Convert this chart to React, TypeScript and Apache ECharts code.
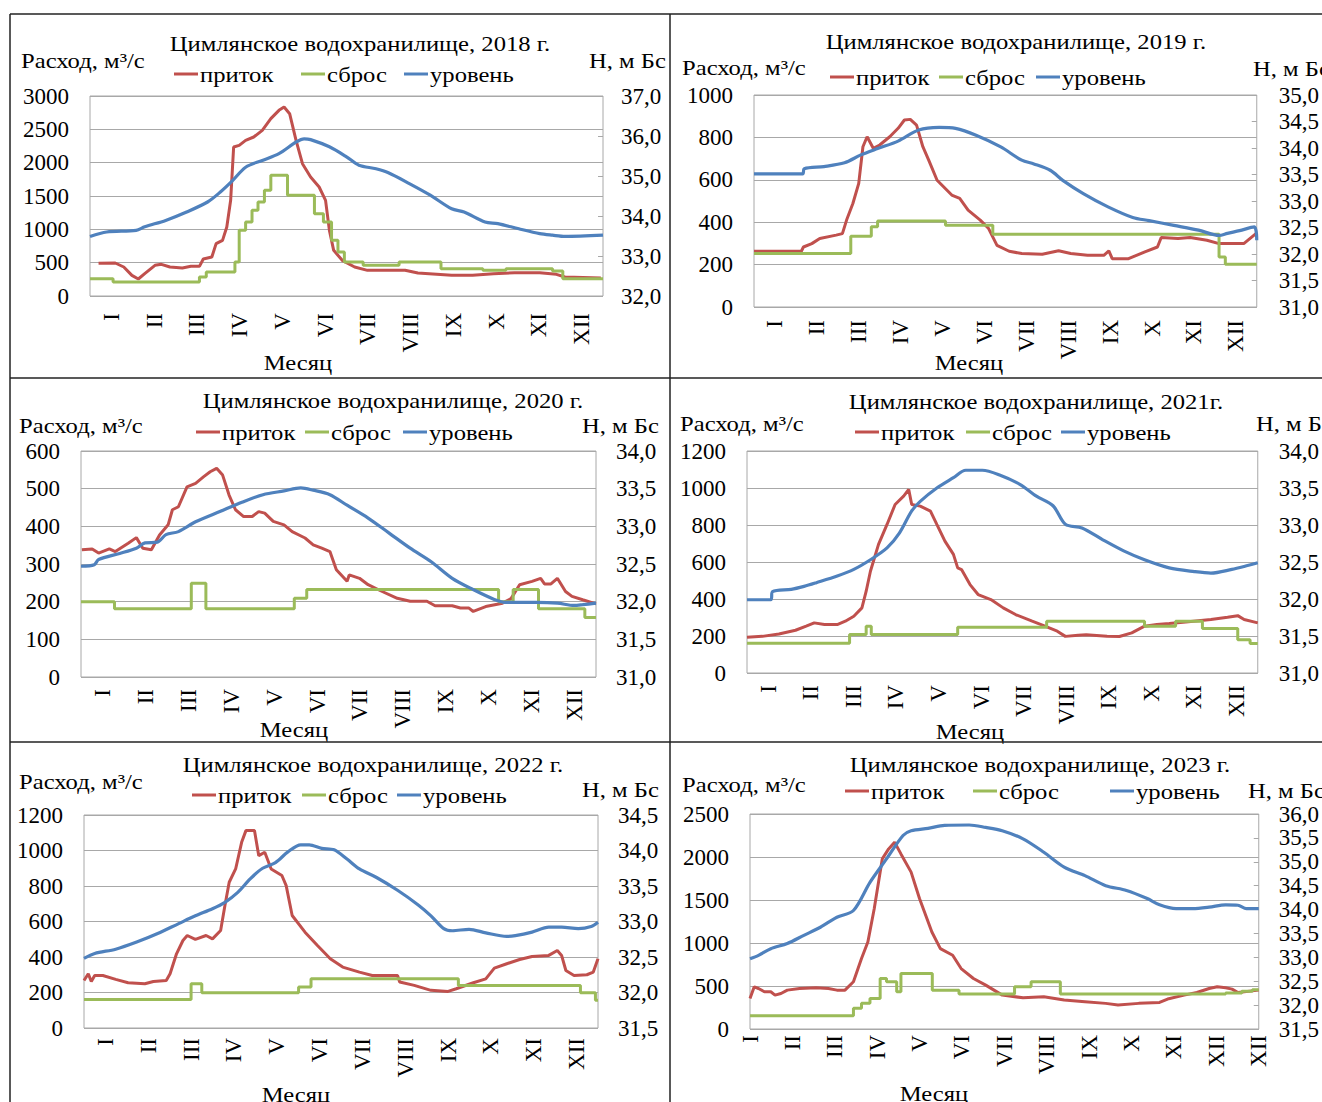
import React, { useEffect, useRef } from "react";
import * as echarts from "echarts";

type Pt = [number, number];

const MONTHS = ["I", "II", "III", "IV", "V", "VI", "VII", "VIII", "IX", "X", "XI", "XII"];
const MONTHS_2023 = ["I", "II", "III", "IV", "V", "VI", "VII", "VIII", "IX", "X", "XI", "XII", "XII"];
const LEGEND_NAMES = ["приток", "сброс", "уровень"];

// ---------- 2018 ----------
const pritok2018: Pt[] = [[0.2,490],[0.59,495],[0.79,435],[0.98,310],[1.13,255],[1.28,335],[1.52,460],[1.67,475],[1.87,435],[2.16,420],[2.36,445],[2.56,445],[2.65,555],[2.85,585],[2.95,785],[3.1,835],[3.2,1035],[3.29,1435],[3.36,2235],[3.49,2260],[3.64,2335],[3.83,2385],[4.03,2485],[4.23,2660],[4.42,2785],[4.54,2835],[4.67,2735],[4.82,2335],[4.97,1985],[5.16,1785],[5.36,1635],[5.51,1435],[5.6,985],[5.7,685],[5.9,535],[6.19,435],[6.49,385],[6.98,385],[7.37,385],[7.67,345],[8.46,310],[8.95,310],[9.44,335],[9.93,350],[10.52,350],[10.91,325],[11.11,285],[11.95,270]];
const sbros2018: Pt[] = [[0,260],[0.54,210],[2.56,285],[2.72,360],[3.39,510],[3.49,985],[3.64,1110],[3.79,1285],[3.93,1410],[4.08,1585],[4.23,1810],[4.62,1510],[5.25,1235],[5.46,1110],[5.65,835],[5.8,660],[5.95,510],[6.39,460],[7.23,510],[8.21,410],[9.19,385],[9.73,410],[10.82,375],[11.06,260],[12,260]];
const uroven2018: Pt[] = [[0,33.49],[0.39,33.6],[1.08,33.64],[1.28,33.73],[1.77,33.89],[2.26,34.1],[2.75,34.35],[3.05,34.6],[3.34,34.89],[3.64,35.22],[4.03,35.39],[4.42,35.56],[4.82,35.85],[5.01,35.93],[5.16,35.91],[5.6,35.73],[6.0,35.48],[6.29,35.27],[6.69,35.18],[6.98,35.08],[7.47,34.81],[7.96,34.52],[8.46,34.18],[8.75,34.1],[9.24,33.85],[9.54,33.81],[10.03,33.68],[10.52,33.56],[10.82,33.52],[11.11,33.49],[12,33.52]];

// ---------- 2019 ----------
const pritok2019: Pt[] = [[0,263],[1.13,263],[1.18,283],[1.38,299],[1.57,323],[1.96,339],[2.11,346],[2.21,410],[2.36,488],[2.5,583],[2.6,756],[2.7,803],[2.85,748],[3.0,764],[3.24,803],[3.44,843],[3.59,882],[3.73,885],[3.88,858],[4.03,756],[4.17,693],[4.37,598],[4.72,528],[4.91,512],[5.11,457],[5.4,410],[5.6,370],[5.8,291],[6.09,263],[6.39,252],[6.88,249],[7.27,265],[7.56,252],[7.96,244],[8.35,244],[8.47,265],[8.55,228],[8.94,228],[9.33,260],[9.63,283],[9.72,328],[10.12,323],[10.41,328],[10.81,315],[11.1,299],[11.69,299],[11.98,346]];
const sbros2019: Pt[] = [[0,252],[2.31,334],[2.8,378],[2.95,406],[4.57,386],[5.7,343],[11.1,236],[11.25,202],[12,202]];
const uroven2019: Pt[] = [[0,33.51],[1.16,33.51],[1.2,33.61],[1.67,33.65],[2.16,33.72],[2.55,33.87],[2.95,33.99],[3.44,34.13],[3.93,34.34],[4.42,34.39],[4.81,34.37],[5.3,34.24],[5.89,34.02],[6.39,33.77],[6.68,33.7],[7.07,33.58],[7.37,33.39],[7.86,33.14],[8.45,32.89],[9.04,32.69],[9.43,32.63],[10.02,32.54],[10.61,32.45],[11.1,32.35],[11.3,32.39],[11.59,32.44],[11.94,32.51],[12,32.26]];

// ---------- 2020 ----------
const pritok2020: Pt[] = [[0.02,338],[0.26,340],[0.41,329],[0.66,340],[0.8,333],[1.1,355],[1.29,370],[1.44,342],[1.64,338],[1.83,377],[2.03,404],[2.13,444],[2.27,452],[2.47,505],[2.67,514],[2.86,532],[3.01,545],[3.16,554],[3.3,536],[3.45,483],[3.6,444],[3.79,426],[3.99,426],[4.14,439],[4.28,435],[4.48,413],[4.73,404],[4.92,386],[5.22,369],[5.41,351],[5.61,342],[5.8,333],[5.95,285],[6.2,254],[6.25,271],[6.49,262],[6.69,245],[6.98,229],[7.37,209],[7.67,201],[8.06,201],[8.25,189],[8.65,189],[8.84,183],[9.04,183],[9.14,174],[9.43,187],[9.82,196],[10.02,208],[10.22,245],[10.51,254],[10.71,262],[10.8,247],[10.95,247],[11.1,262],[11.29,227],[11.44,214],[11.69,205],[12,194]];
const sbros2020: Pt[] = [[0,200],[0.78,181],[2.57,249],[2.91,181],[4.97,209],[5.26,232],[9.73,200],[10.07,232],[10.66,181],[11.74,158],[12,158]];
const uroven2020: Pt[] = [[0,32.47],[0.31,32.49],[0.41,32.56],[0.9,32.64],[1.29,32.71],[1.49,32.78],[1.78,32.79],[1.98,32.89],[2.27,32.93],[2.67,33.06],[3.25,33.2],[3.75,33.32],[4.24,33.42],[4.73,33.47],[5.12,33.51],[5.41,33.48],[5.8,33.42],[6.2,33.28],[6.69,33.11],[7.18,32.91],[7.67,32.71],[8.16,32.53],[8.65,32.31],[9.14,32.16],[9.63,32.03],[9.92,31.99],[10.61,31.99],[11.1,31.98],[11.49,31.95],[11.69,31.96],[12,31.98]];

// ---------- 2021 ----------
const pritok2021: Pt[] = [[0,193],[0.36,198],[0.75,211],[1.14,231],[1.39,253],[1.58,271],[1.82,262],[2.12,262],[2.31,280],[2.51,307],[2.7,352],[2.8,442],[2.9,550],[3.09,695],[3.29,803],[3.48,911],[3.68,956],[3.8,992],[3.87,911],[4.07,902],[4.31,875],[4.46,803],[4.65,713],[4.85,641],[4.95,568],[5.04,559],[5.24,478],[5.43,424],[5.73,397],[6.02,352],[6.31,316],[6.7,280],[7.0,253],[7.29,226],[7.48,198],[7.78,204],[7.97,207],[8.46,198],[8.75,197],[9.04,217],[9.34,253],[9.63,262],[9.92,267],[10.31,276],[10.9,289],[11.29,301],[11.53,310],[11.68,289],[12,271]];
const sbros2021: Pt[] = [[0,161],[2.41,208],[2.8,253],[2.92,208],[4.95,247],[7.04,280],[9.34,253],[10.07,280],[10.7,240],[11.53,180],[11.82,159],[12,159]];
const uroven2021: Pt[] = [[0,31.99],[0.56,31.99],[0.6,32.1],[1.04,32.13],[1.34,32.17],[1.63,32.22],[2.12,32.31],[2.51,32.4],[2.9,32.53],[3.29,32.69],[3.58,32.89],[3.87,33.19],[4.07,33.32],[4.46,33.5],[4.85,33.64],[5.14,33.74],[5.53,33.74],[5.92,33.68],[6.41,33.55],[6.8,33.39],[7.19,33.26],[7.48,33.01],[7.87,32.96],[8.36,32.8],[8.85,32.65],[9.34,32.53],[9.92,32.42],[10.51,32.37],[10.9,32.35],[11.39,32.4],[11.68,32.44],[12,32.49]];

// ---------- 2022 ----------
const pritok2022: Pt[] = [[0,268],[0.1,306],[0.17,262],[0.25,296],[0.44,296],[0.74,274],[1.03,255],[1.42,249],[1.62,262],[1.92,268],[2.01,306],[2.16,418],[2.31,493],[2.41,521],[2.6,499],[2.85,521],[3.0,502],[3.19,549],[3.29,690],[3.39,821],[3.54,896],[3.68,1046],[3.78,1112],[3.98,1112],[4.08,971],[4.22,990],[4.37,896],[4.62,859],[4.72,802],[4.86,634],[5.16,540],[5.45,465],[5.75,390],[6.04,343],[6.43,315],[6.73,296],[7.32,296],[7.37,259],[7.71,240],[8.1,212],[8.5,206],[8.69,221],[9.09,255],[9.38,277],[9.58,337],[9.87,362],[10.17,386],[10.46,403],[10.85,409],[11.05,437],[11.15,409],[11.25,324],[11.44,296],[11.74,300],[11.89,315],[12,390]];
const sbros2022: Pt[] = [[0,161],[2.5,249],[2.75,199],[5.01,231],[5.3,278],[8.74,240],[11.59,199],[11.94,156],[12,156]];
const uroven2022: Pt[] = [[0,32.48],[0.25,32.55],[0.74,32.61],[1.23,32.71],[1.72,32.83],[2.21,32.97],[2.6,33.08],[3.0,33.18],[3.29,33.27],[3.59,33.41],[3.88,33.6],[4.17,33.75],[4.47,33.83],[4.76,33.98],[5.06,34.08],[5.26,34.08],[5.55,34.03],[5.84,34.01],[6.14,33.88],[6.43,33.74],[6.83,33.62],[7.32,33.44],[7.81,33.23],[8.1,33.08],[8.4,32.9],[8.6,32.87],[8.99,32.89],[9.38,32.84],[9.87,32.79],[10.07,32.8],[10.46,32.85],[10.85,32.92],[11.15,32.92],[11.54,32.9],[11.84,32.93],[12,32.99]];

// ---------- 2023 ----------
const pritok2023: Pt[] = [[0,355],[0.1,491],[0.2,471],[0.34,433],[0.49,433],[0.59,394],[0.73,413],[0.88,452],[1.17,471],[1.56,479],[1.85,471],[2.05,452],[2.24,452],[2.44,549],[2.63,819],[2.78,1012],[2.93,1399],[3.12,1978],[3.27,2094],[3.41,2172],[3.56,2036],[3.8,1824],[4.0,1515],[4.29,1128],[4.49,935],[4.78,858],[4.98,703],[5.27,587],[5.56,510],[5.95,394],[6.44,363],[6.93,375],[7.41,336],[7.9,317],[8.39,298],[8.68,278],[9.17,298],[9.66,309],[9.85,348],[10.24,394],[10.54,425],[10.83,471],[11.02,491],[11.22,479],[11.37,464],[11.51,425],[12,452]];
const sbros2023: Pt[] = [[0,155],[2.44,240],[2.63,298],[2.83,355],[3.07,587],[3.22,549],[3.46,433],[3.56,645],[4.3,452],[4.93,406],[6.24,491],[6.63,549],[7.32,406],[11.22,420],[11.6,440],[11.85,455],[12,455]];
const uroven2023: Pt[] = [[0,32.97],[0.2,33.04],[0.49,33.18],[0.88,33.29],[1.27,33.46],[1.66,33.63],[2.05,33.84],[2.44,33.98],[2.83,34.57],[3.22,35.06],[3.61,35.55],[3.8,35.65],[4.2,35.7],[4.59,35.76],[5.17,35.77],[5.56,35.72],[5.95,35.65],[6.44,35.48],[6.93,35.2],[7.41,34.89],[7.9,34.71],[8.39,34.5],[8.88,34.4],[9.37,34.23],[9.66,34.1],[10.05,34.02],[10.44,34.02],[10.83,34.05],[11.22,34.1],[11.51,34.09],[11.71,34.02],[12,34.02]];

const FONT = "'Liberation Serif', 'Times New Roman', serif";
const RED = "#C0504D";
const GREEN = "#9BBB59";
const BLUE = "#4F81BD";
const GRID_GRAY = "#a8a8a8";
const TXT_SCALE = 1.12;

interface Panel {
  title: string;
  pritok: Pt[];
  sbros: Pt[];
  uroven: Pt[];
  qMax: number;
  qStep: number;
  hMin: number;
  hMax: number;
  hStep: number;
  months: string[];
  boundaryGap: boolean;
  grid: { left: number; top: number; right: number; bottom: number };
  titlePos: [number, number];
  rashodPos: [number, number];
  hPos: [number, number];
  legendX: [number, number, number];
  legendY: number;
  monthPos: [number, number];
  xMargin: number;
  hMargin: number;
}

const panels: Panel[] = [
  {
    title: "Цимлянское водохранилище, 2018 г.",
    pritok: pritok2018, sbros: sbros2018, uroven: uroven2018,
    qMax: 3000, qStep: 500, hMin: 32, hMax: 37, hStep: 1,
    months: MONTHS, boundaryGap: true,
    grid: { left: 90, top: 96, right: 603, bottom: 296 },
    titlePos: [360, 43], rashodPos: [21, 60], hPos: [589, 60],
    legendX: [174, 301, 404], legendY: 74, monthPos: [298, 362],
    xMargin: 17, hMargin: 18,
  },
  {
    title: "Цимлянское водохранилище, 2019 г.",
    pritok: pritok2019, sbros: sbros2019, uroven: uroven2019,
    qMax: 1000, qStep: 200, hMin: 31, hMax: 35, hStep: 0.5,
    months: MONTHS, boundaryGap: true,
    grid: { left: 754, top: 95, right: 1268, bottom: 307 },
    titlePos: [1016, 41], rashodPos: [682, 67], hPos: [1253, 68],
    legendX: [830, 939, 1036], legendY: 77, monthPos: [969, 362],
    xMargin: 13, hMargin: 22,
  },
  {
    title: "Цимлянское водохранилище, 2020 г.",
    pritok: pritok2020, sbros: sbros2020, uroven: uroven2020,
    qMax: 600, qStep: 100, hMin: 31, hMax: 34, hStep: 0.5,
    months: MONTHS, boundaryGap: true,
    grid: { left: 81, top: 451, right: 596, bottom: 677 },
    titlePos: [393, 400], rashodPos: [19, 425], hPos: [582, 425],
    legendX: [196, 305, 403], legendY: 432, monthPos: [294, 729],
    xMargin: 12, hMargin: 20,
  },
  {
    title: "Цимлянское водохранилище, 2021г.",
    pritok: pritok2021, sbros: sbros2021, uroven: uroven2021,
    qMax: 1200, qStep: 200, hMin: 31, hMax: 34, hStep: 0.5,
    months: MONTHS, boundaryGap: true,
    grid: { left: 747, top: 451, right: 1265, bottom: 673 },
    titlePos: [1036, 401], rashodPos: [680, 423], hPos: [1256, 423],
    legendX: [855, 966, 1061], legendY: 432, monthPos: [970, 731],
    xMargin: 12, hMargin: 21,
  },
  {
    title: "Цимлянское водохранилище, 2022 г.",
    pritok: pritok2022, sbros: sbros2022, uroven: uroven2022,
    qMax: 1200, qStep: 200, hMin: 31.5, hMax: 34.5, hStep: 0.5,
    months: MONTHS, boundaryGap: true,
    grid: { left: 84, top: 815, right: 598, bottom: 1028 },
    titlePos: [373, 764], rashodPos: [19, 781], hPos: [582, 789],
    legendX: [192, 302, 397], legendY: 795, monthPos: [296, 1094],
    xMargin: 10, hMargin: 20,
  },
  {
    title: "Цимлянское водохранилище, 2023 г.",
    pritok: pritok2023, sbros: sbros2023, uroven: uroven2023,
    qMax: 2500, qStep: 500, hMin: 31.5, hMax: 36, hStep: 0.5,
    months: MONTHS_2023, boundaryGap: false,
    grid: { left: 750, top: 814, right: 1268, bottom: 1029 },
    titlePos: [1040, 764], rashodPos: [682, 784], hPos: [1248, 790],
    legendX: [845, 973, 1110], legendY: 791, monthPos: [934, 1093],
    xMargin: 6, hMargin: 20,
  },
];

const COLORS = [RED, GREEN, BLUE];

function textEl(text: string, x: number, y: number, align: string, size = 22) {
  return {
    type: "text",
    x,
    y,
    scaleX: TXT_SCALE,
    silent: true,
    style: {
      text,
      x: 0,
      y: 0,
      fill: "#000",
      font: `${size}px ${FONT}`,
      textAlign: align,
      textVerticalAlign: "middle",
    },
  };
}

function buildOption(): any {
  const grid: any[] = [];
  const xAxis: any[] = [];
  const yAxis: any[] = [];
  const series: any[] = [];
  const graphic: any[] = [];
  const labelStyle = { fontSize: 23, fontFamily: FONT, color: "#000" };

  panels.forEach((p, i) => {
    grid.push({
      left: p.grid.left,
      top: p.grid.top,
      width: p.grid.right - p.grid.left,
      height: p.grid.bottom - p.grid.top,
      show: true,
      borderColor: GRID_GRAY,
      borderWidth: 1,
      backgroundColor: "transparent",
    });
    xAxis.push({ type: "value", gridIndex: i, min: 0, max: 12, show: false });
    xAxis.push({
      type: "category",
      gridIndex: i,
      position: "bottom",
      data: p.months,
      boundaryGap: p.boundaryGap,
      axisLine: { show: false },
      axisTick: { show: false },
      splitLine: { show: false },
      axisLabel: { ...labelStyle, rotate: 90, margin: p.xMargin, interval: 0 },
    });
    yAxis.push({
      type: "value",
      gridIndex: i,
      position: "left",
      min: 0,
      max: p.qMax,
      interval: p.qStep,
      axisLine: { show: false },
      axisTick: { show: false },
      splitLine: { show: true, lineStyle: { color: GRID_GRAY, width: 1 } },
      axisLabel: { ...labelStyle, margin: 21, formatter: (v: number) => String(v) },
    });
    yAxis.push({
      type: "value",
      gridIndex: i,
      position: "right",
      min: p.hMin,
      max: p.hMax,
      interval: p.hStep,
      axisLine: { show: false },
      axisTick: { show: true, inside: true, length: 5, lineStyle: { color: GRID_GRAY } },
      splitLine: { show: false },
      axisLabel: {
        ...labelStyle,
        margin: p.hMargin,
        formatter: (v: number) => v.toFixed(1).replace(".", ","),
      },
    });

    const common = {
      type: "line",
      xAxisIndex: 2 * i,
      showSymbol: false,
      symbol: "none",
      silent: true,
    };
    series.push({
      ...common,
      name: "приток",
      yAxisIndex: 2 * i,
      data: p.pritok,
      lineStyle: { color: RED, width: 3 },
      itemStyle: { color: RED },
    });
    series.push({
      ...common,
      name: "сброс",
      yAxisIndex: 2 * i,
      step: "end",
      data: p.sbros,
      lineStyle: { color: GREEN, width: 3 },
      itemStyle: { color: GREEN },
    });
    series.push({
      ...common,
      name: "уровень",
      yAxisIndex: 2 * i + 1,
      smooth: 0.3,
      data: p.uroven,
      lineStyle: { color: BLUE, width: 3.2 },
      itemStyle: { color: BLUE },
    });

    graphic.push(textEl(p.title, p.titlePos[0], p.titlePos[1], "center"));
    graphic.push(textEl("Расход, м³/с", p.rashodPos[0], p.rashodPos[1], "left"));
    graphic.push(textEl("Н, м Бс", p.hPos[0], p.hPos[1], "left"));
    graphic.push(textEl("Месяц", p.monthPos[0], p.monthPos[1], "center"));
    LEGEND_NAMES.forEach((name, k) => {
      graphic.push({
        type: "rect",
        silent: true,
        shape: { x: p.legendX[k], y: p.legendY - 1.5, width: 24, height: 3 },
        style: { fill: COLORS[k] },
      });
      graphic.push(textEl(name, p.legendX[k] + 26, p.legendY, "left"));
    });
  });

  // panel frame lines
  const frame = { stroke: "#222", lineWidth: 1.5 };
  const lines: [number, number, number, number][] = [
    [10, 14, 10, 1102],
    [670, 14, 670, 1102],
    [10, 14, 1322, 14],
    [10, 378, 1322, 378],
    [10, 742, 1322, 742],
  ];
  lines.forEach(([x1, y1, x2, y2]) => {
    graphic.push({ type: "line", silent: true, shape: { x1, y1, x2, y2 }, style: frame });
  });

  return {
    animation: false,
    backgroundColor: "#fff",
    textStyle: { fontFamily: FONT },
    grid,
    xAxis,
    yAxis,
    series,
    graphic,
  };
}

export default function App() {
  const ref = useRef<HTMLDivElement>(null);
  useEffect(() => {
    if (!ref.current) return;
    const chart = echarts.init(ref.current, undefined, { renderer: "svg" });
    chart.setOption(buildOption());
    return () => chart.dispose();
  }, []);
  return (
    <div
      ref={ref}
      style={{ position: "absolute", left: 0, top: 0, width: 1322, height: 1102, background: "#fff" }}
    />
  );
}
